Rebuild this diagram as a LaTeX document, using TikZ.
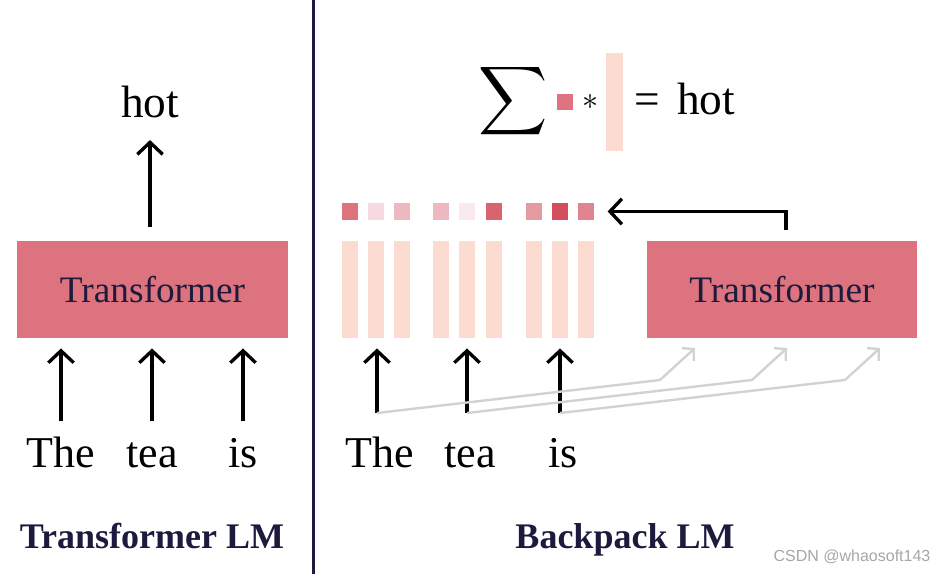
\documentclass[tikz,border=0pt]{standalone}
\usepackage{fontspec}
\setmainfont{Liberation Serif}
\newfontfamily\wmfont{Liberation Sans}
\usetikzlibrary{arrows.meta,positioning,calc}
\definecolor{tfpink}{HTML}{DC737E}
\definecolor{peach}{HTML}{FCDBD0}
\definecolor{navy}{HTML}{1C1B3D}
\definecolor{lgray}{HTML}{D2D2D2}

\begin{document}
\begin{tikzpicture}[x=0.75pt,y=-0.75pt,
  tfbox/.style={fill=tfpink,minimum width=203pt,minimum height=73pt,inner sep=0pt,text=navy,font=\fontsize{28}{32}\selectfont},
  word/.style={font=\fontsize{33}{38}\selectfont,inner sep=0pt,anchor=base,text height=23pt,text depth=7pt},
  hotw/.style={font=\fontsize{34}{38}\selectfont,inner sep=0pt,anchor=base},
  title/.style={font=\fontsize{27}{32}\selectfont\bfseries,text=navy,anchor=base},
  bar/.style={fill=peach,minimum width=12pt,minimum height=73pt,inner sep=0pt},
  sq/.style={minimum size=12pt,inner sep=0pt},
  arr/.style={-{Straight Barb[length=9pt,width=19pt]},line width=2.5pt},
  garr/.style={-{Straight Barb[length=6pt,width=13pt]},line width=1.8pt,lgray},
]
\useasboundingbox (0,0) rectangle (935,574);
\draw[navy,line width=2.25pt] (313,0) -- (313,574);

% Transformer LM
\node[tfbox] (tfl) at (152.5,289.5) {Transformer};
\node[hotw] (hotl) at (150,118) {hot};
\draw[arr,shorten <=10pt,shorten >=16pt] (tfl.north -| hotl.south) -- (hotl.south);
\foreach \x/\w [count=\i] in {61/The,152/tea,243/is}{
  \node[word] (lw\i) at (\x,467) {\w};
  \draw[arr,shorten <=11pt,shorten >=7.5pt] (lw\i.north) -- (lw\i.north |- tfl.south);
}
\node[title] (lt) at (152,548) {Transformer LM};

% Backpack LM
\foreach \x/\c [count=\i] in {350/DC737F,376/F6DADF,402/EDB9C0,441/EDB9C0,467/F9EBED,494/D9636F,534/E59AA2,560/D54E5E,586/E08590}{
  \definecolor{sqc}{HTML}{\c}
  \node[bar] (bar\i) at (\x,289.5) {};
  \node[sq,fill=sqc] (sq\i) at (\x,211.5) {};
}
\node[tfbox] (tfr) at (782,289.5) {Transformer};
\draw[arr,shorten >=10pt] ($(tfr.north)+(4,-11)$) |- (sq9.east);

\foreach \x/\w/\b [count=\i] in {380/The/2,470/tea/5,563/is/8}{
  \node[word] (rw\i) at (\x,467) {\w};
  \coordinate (base\i) at (\x-3,413);
  \draw[arr,shorten >=7.5pt] (base\i) -- (base\i |- bar\b.south);
}
\foreach \t [count=\i] in {695,787,880}{
  \coordinate (in\i) at (\t,348);
  \draw[garr] (base\i) -- ($(in\i)+(-35,32)$) -- (in\i);
}

% weighted sum
\node[scale=3.6,inner sep=0pt] (sum) at (513,101) {$\displaystyle\sum$};
\node[sq,fill=tfpink] (wsq) at (565,102) {};
\node[scale=2.4,inner sep=0pt] (star) at (590,102) {$*$};
\node[bar,minimum width=13pt,minimum height=74pt] (vec) at (614.5,102) {};
\node[hotw] (eq) at (647,115) {=};
\node[hotw] (hotr) at (706,115) {hot};

\node[title] (rt) at (625,548) {Backpack LM};
\node[font=\wmfont\fontsize{12}{14}\selectfont,text=black!35,inner sep=0pt] (wm) at (852,557) {CSDN @whaosoft143};
\end{tikzpicture}
\end{document}
